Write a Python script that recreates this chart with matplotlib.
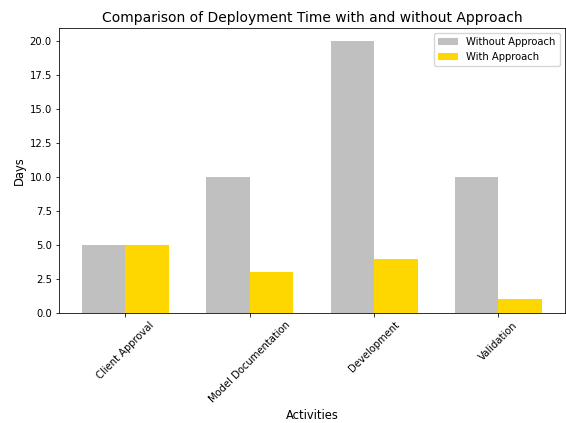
import matplotlib
matplotlib.use("Agg")
import matplotlib.pyplot as plt
import numpy as np

activities = ["Client Approval", "Model Documentation", "Development", "Validation"]
without_approach = [5, 10, 20, 10]
with_approach = [5, 3, 4, 1]

silver = '#c0c0c0'
gold = '#ffd700'

# reference looks like a bigger figure shrunk down, so scale sizes
s = 0.72
plt.rcParams['axes.linewidth'] = 0.8 * s
plt.rcParams['xtick.major.size'] = 3.5 * s
plt.rcParams['ytick.major.size'] = 3.5 * s
plt.rcParams['xtick.major.width'] = 0.8 * s
plt.rcParams['ytick.major.width'] = 0.8 * s
plt.rcParams['xtick.major.pad'] = 3.5 * s
plt.rcParams['ytick.major.pad'] = 3.5 * s

fig = plt.figure(figsize=(5.66, 4.23), dpi=100)
ax = fig.add_axes([0.104, 0.26, 0.894, 0.674])

x = np.arange(len(activities))
width = 0.35
ax.bar(x - width / 2, without_approach, width, color=silver, label="Without Approach")
ax.bar(x + width / 2, with_approach, width, color=gold, label="With Approach")

ax.set_title("Comparison of Deployment Time with and without Approach", fontsize=10, pad=6 * s)
ax.set_xlabel("Activities", fontsize=8.3, labelpad=4 * s)
ax.set_ylabel("Days", fontsize=8.3, labelpad=4 * s)
ax.set_xticks(x)
ax.set_xticklabels(activities, rotation=45, fontsize=10 * s)
ax.tick_params(axis='y', labelsize=10 * s)
ax.set_yticks(np.arange(0, 20.1, 2.5))
ax.legend(fontsize=10 * s, loc='upper right', borderaxespad=0.5)

fig.savefig("out.png", dpi=100)
